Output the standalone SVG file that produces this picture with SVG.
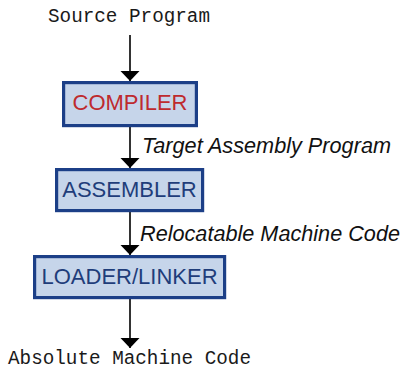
<svg xmlns="http://www.w3.org/2000/svg" width="404" height="370" viewBox="0 0 404 370">
  <style>
    .box { fill: #c6d5ea; stroke: #1c3f87; stroke-width: 3.2; }
    .name { font-family: "Liberation Sans", Arial, sans-serif; font-size: 22px; fill: #1f3d7a; text-anchor: middle; }
    .mono { font-family: "Liberation Mono", "Courier New", monospace; font-size: 19.3px; fill: #1a1a1a; }
    .lbl { font-family: "Liberation Sans", Arial, sans-serif; font-style: italic; font-size: 21.5px; fill: #111; }
    .edge { stroke: #000; stroke-width: 1.6; fill: none; marker-end: url(#head); }
  </style>
  <defs>
    <!-- filled triangular arrowhead, drawn pointing along +x -->
    <marker id="head" markerUnits="userSpaceOnUse" markerWidth="10" markerHeight="20" refX="10" refY="10" orient="auto" viewBox="0 0 10 20">
      <path d="M0 0.5 L10 10 L0 19.5 Z" fill="#000"/>
    </marker>
  </defs>

  <g id="connectors">
    <path class="edge" d="M130 35 V81"/>
    <path class="edge" d="M130 127 V168"/>
    <path class="edge" d="M130 212 V255"/>
    <path class="edge" d="M130 299 V348"/>
  </g>

  <g id="source">
    <text class="mono" x="48" y="22">Source Program</text>
  </g>

  <g id="compiler">
    <rect class="box" x="63.6" y="82.6" width="132.8" height="43"/>
    <text class="name" x="130" y="110" style="fill:#be2a2e">COMPILER</text>
  </g>

  <text class="lbl" x="142" y="153" textLength="249" lengthAdjust="spacingAndGlyphs">Target Assembly Program</text>

  <g id="assembler">
    <rect class="box" x="56.6" y="169.6" width="146" height="41"/>
    <text class="name" x="129.5" y="197">ASSEMBLER</text>
  </g>

  <text class="lbl" x="140" y="241" textLength="260" lengthAdjust="spacingAndGlyphs">Relocatable Machine Code</text>

  <g id="loader">
    <rect class="box" x="34.6" y="256.6" width="190" height="41"/>
    <text class="name" x="129.5" y="284">LOADER/LINKER</text>
  </g>

  <g id="target">
    <text class="mono" x="8" y="364">Absolute Machine Code</text>
  </g>
</svg>
